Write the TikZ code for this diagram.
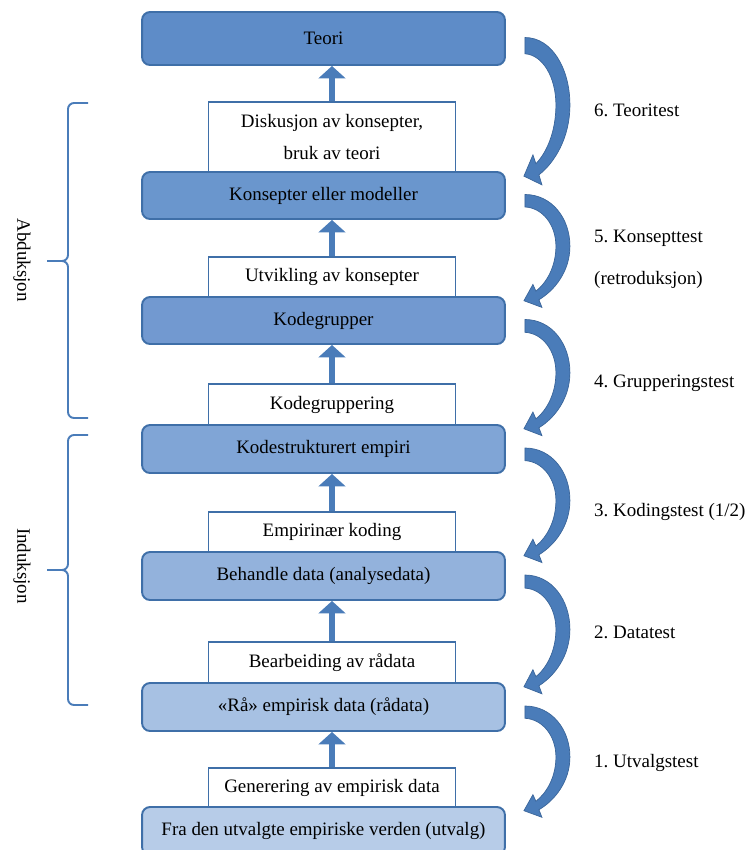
\documentclass[tikz,border=0pt]{standalone}
\usepackage{fontspec}
\setmainfont{Liberation Serif}
\usetikzlibrary{arrows.meta,calc}
\frenchspacing

\definecolor{blaa1}{HTML}{5E8CC8}
\definecolor{blaa2}{HTML}{6A96CD}
\definecolor{blaa3}{HTML}{7299D0}
\definecolor{blaa4}{HTML}{80A5D6}
\definecolor{blaa5}{HTML}{93B2DC}
\definecolor{blaa6}{HTML}{A7C1E3}
\definecolor{blaa7}{HTML}{B7CCE8}
\definecolor{kant}{HTML}{3F6FA8}
\definecolor{pilfarge}{HTML}{4A7CB9}
\definecolor{pilkant}{HTML}{3A659A}

% buet testpil fra ett nivaa ned til neste
\newcommand{\testpil}[2]{%
  \path let \p1=($(#1.east)+(19,-1)$), \p2=(#2.north) in
    (\p1) pic[yscale={(\y1-\y2)/62.36+0.03}] {bue};}

\begin{document}
\begin{tikzpicture}[
    x=0.02cm, y=-0.02cm,
    font=\fontsize{10.8}{13}\selectfont,
    % Stiler
    nivaa/.style={draw=kant, line width=1.1pt, rounded corners=1.6mm,
                  minimum width=7.26cm, minimum height=0.94cm, inner sep=0pt},
    steg/.style={draw=kant, line width=1.1pt, fill=white,
                 minimum width=4.94cm, minimum height=0.8cm, inner sep=0pt},
    opp/.style={draw=pilfarge, line width=3.4pt, -{Triangle[width=15pt, length=7pt]}},
    klamme/.style={draw=pilfarge, line width=1.1pt, rounded corners=1.2mm},
    test/.style={anchor=west},
    bue/.pic={
      \fill[pilfarge, draw=pilkant, line width=0.4pt]
        (0,0) .. controls (27,0) and (45,25) .. (45,54)
        .. controls (45,80) and (30,100) .. (14,110) -- (17,118) -- (-1,111)
        -- (8,94) -- (11,101) .. controls (22,92) and (31,75) .. (31,54)
        .. controls (31,32) and (18,14) .. (0,13) -- cycle;
    }
]
\useasboundingbox (0,0) rectangle (745,850);
\clip (0,0) rectangle (745,850);

% --- HVITE STEG (tegnes foerst) ---
\node[steg, minimum height=1.4cm, align=center] (disk) at (332,137)
  {Diskusjon av konsepter,\\[5.5pt] bruk av teori};
\node[steg] (utv) at (332,277) {Utvikling av konsepter};
\node[steg, minimum height=0.82cm] (kgrp) at (332,404.5) {Kodegruppering};
\node[steg] (empn) at (332,532) {Empirinær koding};
\node[steg, minimum height=0.82cm] (bearb) at (332,662.5) {Bearbeiding av rådata};
\node[steg, minimum height=0.78cm] (gener) at (332,787.5) {Generering av empirisk data};

% --- NIVAAER ---
\node[nivaa, fill=blaa1, minimum height=1.06cm] (teori) at (323.5,38.5) {Teori};
\node[nivaa, fill=blaa2] (konsept) at (323.5,195.5) {Konsepter eller modeller};
\node[nivaa, fill=blaa3] (kodegr) at (323.5,320.5) {Kodegrupper};
\node[nivaa, fill=blaa4, minimum height=0.96cm] (kodestr) at (323.5,449) {Kodestrukturert empiri};
\node[nivaa, fill=blaa5, minimum height=0.96cm] (behandle) at (323.5,576) {Behandle data (analysedata)};
\node[nivaa, fill=blaa6, minimum height=0.96cm] (raa) at (323.5,707) {«Rå» empirisk data (rådata)};
\node[nivaa, fill=blaa7, minimum height=0.96cm] (utvalg) at (323.5,831) {Fra den utvalgte empiriske verden (utvalg)};

% --- PILER OPPOVER ---
\draw[opp] (disk.north) -- (disk.north |- teori.south);
\draw[opp] (utv.north) -- (utv.north |- konsept.south);
\draw[opp] (kgrp.north) -- (kgrp.north |- kodegr.south);
\draw[opp] (empn.north) -- (empn.north |- kodestr.south);
\draw[opp] (bearb.north) -- (bearb.north |- behandle.south);
\draw[opp] (gener.north) -- (gener.north |- raa.south);

% --- TESTER (hoeyre side) ---
\testpil{teori}{konsept}
\testpil{konsept}{kodegr}
\testpil{kodegr}{kodestr}
\testpil{kodestr}{behandle}
\testpil{behandle}{raa}
\testpil{raa}{utvalg}

\node[test] (t6) at (588,110) {6. Teoritest};
\node[test] (t5) at (588,238) {5. Konsepttest};
\node[test] (t5b) at (588,280) {(retroduksjon)};
\node[test] (t4) at (588,383) {4. Grupperingstest};
\node[test] (t3) at (588,512) {3. Kodingstest (1/2)};
\node[test] (t2) at (588,632) {2. Datatest};
\node[test] (t1) at (588,763) {1. Utvalgstest};

% --- KLAMMER (venstre side) ---
\draw[klamme] (88,103) -- (68,103) -- (68,261) -- (47,261);
\draw[klamme] (88,418) -- (68,418) -- (68,261) -- (47,261);
\node[rotate=-90] (abd) at (22,260) {Abduksjon};

\draw[klamme] (88,435) -- (68,435) -- (68,570) -- (47,570);
\draw[klamme] (88,705) -- (68,705) -- (68,570) -- (47,570);
\node[rotate=-90] (ind) at (22,566) {Induksjon};

\end{tikzpicture}
\end{document}
